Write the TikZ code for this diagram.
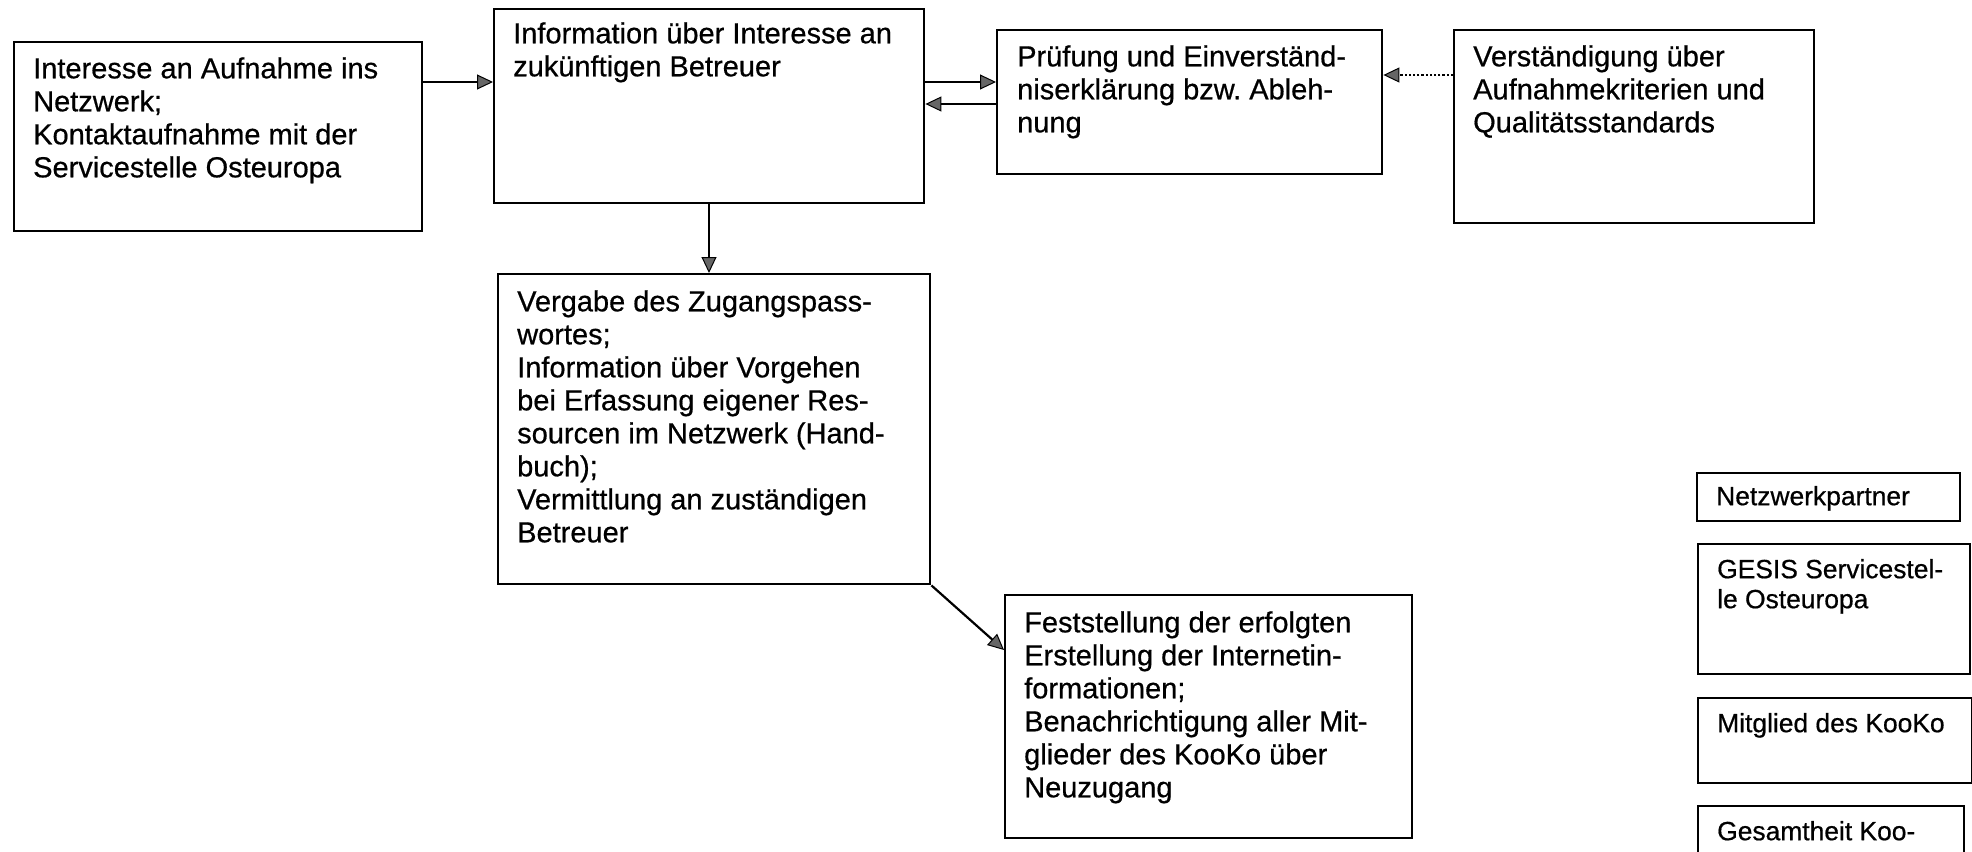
\documentclass[tikz,border=0pt]{standalone}
\usepackage{fontspec}
\setmainfont{Liberation Sans}[FakeBold=0.6]
\frenchspacing
\usetikzlibrary{arrows.meta,positioning}

\begin{document}
\begin{tikzpicture}[
        x=1pt, y=-1pt,
        box/.style={draw, line width=2.4pt, anchor=north west, inner sep=0pt},
        txt/.style={anchor=north west, inner sep=0pt, align=left, font=\fontsize{29}{33}\selectfont},
        legtxt/.style={anchor=north west, inner sep=0pt, align=left, font=\fontsize{26.4}{30}\selectfont},
        arrow/.style={-{Triangle[length=16pt, width=15pt, line width=1pt, fill=gray!80!black]}, line width=2.2pt},
        dotarrow/.style={arrow, dotted, line width=1.6pt}
    ]

        \useasboundingbox (0,0) rectangle (1972,851);

        \node (interesse) [box, minimum width=408pt, minimum height=189pt] at (13,41) {};
        \node (info) [box, minimum width=430pt, minimum height=194pt] at (493,8) {};
        \node (pruefung) [box, minimum width=385pt, minimum height=144pt] at (996,29) {};
        \node (verst) [box, minimum width=360pt, minimum height=193pt] at (1453,29) {};
        \node (vergabe) [box, minimum width=432pt, minimum height=310pt] at (497,273) {};
        \node (feststellung) [box, minimum width=407pt, minimum height=243pt] at (1004,594) {};

        \node (interesse-t) [txt] at ([shift={(20,14)}]interesse.north west) {\strut Interesse an Aufnahme ins\\Netzwerk;\\Kontaktaufnahme mit der\\Servicestelle Osteuropa};
        \node (info-t) [txt] at ([shift={(20,12)}]info.north west) {\strut Information über Interesse an\\zukünftigen Betreuer};
        \node (pruefung-t) [txt] at ([shift={(21,14)}]pruefung.north west) {\strut Prüfung und Einverständ-\\niserklärung bzw. Ableh-\\nung};
        \node (verst-t) [txt] at ([shift={(20,14)}]verst.north west) {\strut Verständigung über\\Aufnahmekriterien und\\Qualitätsstandards};
        \node (vergabe-t) [txt] at ([shift={(20,15)}]vergabe.north west) {\strut Vergabe des Zugangspass-\\wortes;\\Information über Vorgehen\\bei Erfassung eigener Res-\\sourcen im Netzwerk (Hand-\\buch);\\Vermittlung an zuständigen\\Betreuer};
        \node (feststellung-t) [txt] at ([shift={(20,15)}]feststellung.north west) {\strut Feststellung der erfolgten\\Erstellung der Internetin-\\formationen;\\Benachrichtigung aller Mit-\\glieder des KooKo über\\Neuzugang};

        % legend
        \node (partner) [box, minimum width=263pt, minimum height=48pt] at (1696,472) {};
        \node (gesis) [box, minimum width=272pt, minimum height=130pt] at (1697,543) {};
        \node (mitglied) [box, minimum width=274pt, minimum height=85pt] at (1697,697) {};
        \node (gesamt) [box, minimum width=266pt, minimum height=70pt] at (1697,805) {};

        \node (partner-t) [legtxt] at ([shift={(20,12)}]partner.north west) {\strut Netzwerkpartner};
        \node (gesis-t) [legtxt] at ([shift={(20,14)}]gesis.north west) {\strut GESIS Servicestel-\\le Osteuropa};
        \node (mitglied-t) [legtxt] at ([shift={(20,14)}]mitglied.north west) {\strut Mitglied des KooKo};
        \node (gesamt-t) [legtxt] at ([shift={(20,14)}]gesamt.north west) {\strut Gesamtheit Koo-};

        \draw[arrow] ([yshift=-41pt]interesse.north east) -- ([yshift=-74pt]info.north west);
        \draw[arrow] ([yshift=-74pt]info.north east) -- ([yshift=-53pt]pruefung.north west);
        \draw[arrow] ([yshift=-75pt]pruefung.north west) -- ([yshift=-96pt]info.north east);
        \draw[dotarrow] ([yshift=-46pt]verst.north west) -- ([yshift=-46pt]pruefung.north east);
        \draw[arrow] ([xshift=216pt]info.south west) -- ([xshift=212pt]vergabe.north west);
        \draw[arrow] (vergabe.south east) -- ([yshift=-56pt]feststellung.north west);

    \end{tikzpicture}
\end{document}
